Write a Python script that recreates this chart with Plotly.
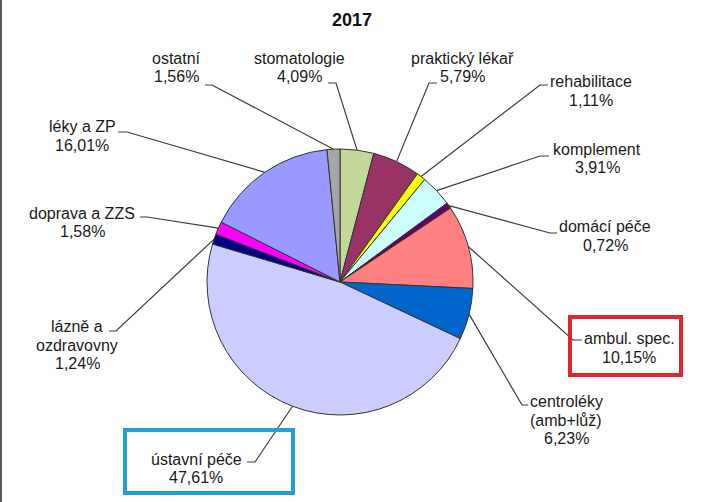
import math
import plotly.graph_objects as go

# ---- data ----
categories = ["stomatologie", "praktický lékař", "rehabilitace", "komplement",
              "domácí péče", "ambul. spec.", "centroléky<br>(amb+lůž)", "ústavní péče",
              "lázně a<br>ozdravovny", "doprava a ZZS", "léky a ZP", "ostatní"]
values = [4.09, 5.79, 1.11, 3.91, 0.72, 10.15, 6.23, 47.61, 1.24, 1.58, 16.01, 1.56]
title_text = "2017"

# ---- styles / layout ----
colors = ["#c4d79b", "#993366", "#ffff00", "#ccffff", "#660066", "#ff8080",
          "#0066cc", "#ccccff", "#000080", "#ff00ff", "#9999ff", "#a6a6a6"]

W, H = 703, 502
CX, CY, R = 340, 282, 133
LINE_H = 18.5
FONT = "Liberation Sans, Arial"

# label block centres (px) and leader stub (outer x, inner x, y) in px
label_pos = [(299, 67.5), (462, 67.5), (591, 91), (597, 158.5), (605, 236), (629, 348),
             (566, 420), (196, 468.5), (77, 345), (82, 222.5), (82, 136), (176, 67.5)]
stubs = [(328, 336, 83), (437, 429, 83), (548, 540, 85), (549, 540, 156),
         (557, 550, 233), (582, 573, 340), (528, 522, 405), (247, 255, 462),
         (109, 116, 331), (140, 147, 217), (118, 127, 132), (205, 212, 85)]


def px(x):
    return x / W


def py(y):
    return 1 - y / H


fig = go.Figure()
fig.add_trace(go.Pie(
    labels=[c.replace("<br>", " ") for c in categories],
    values=values,
    sort=False,
    direction="clockwise",
    rotation=0,
    textinfo="none",
    hoverinfo="label+percent",
    marker=dict(colors=colors, line=dict(color="#333333", width=1)),
    domain=dict(x=[px(CX - R), px(CX + R)], y=[py(CY + R), py(CY - R)]),
    showlegend=False,
))

total = sum(values)
shapes = []
annotations = []
cum = 0.0
for name, v, (lx, ly), (sx0, sx1, sy) in zip(categories, values, label_pos, stubs):
    mid = (cum + v / 2) / total * 2 * math.pi
    cum += v
    ex = CX + R * math.sin(mid)
    ey = CY - R * math.cos(mid)
    path = f"M {px(sx0)},{py(sy)} L {px(sx1)},{py(sy)} L {px(ex)},{py(ey)}"
    shapes.append(dict(type="path", path=path, xref="paper", yref="paper",
                       line=dict(color="#3c3c3c", width=1.2)))
    pct = f"{v:.2f}".replace(".", ",") + "%"
    lines = name.split("<br>") + [pct]
    n = len(lines)
    for i, t in enumerate(lines):
        yy = ly + (i - (n - 1) / 2) * LINE_H
        annotations.append(dict(text=t, x=px(lx), y=py(yy),
                                xref="paper", yref="paper", xanchor="center",
                                yanchor="middle", showarrow=False,
                                font=dict(family=FONT, size=16, color="#1a1a1a")))

annotations.append(dict(text=f"<b>{title_text}</b>", x=px(352), y=py(20), xref="paper",
                        yref="paper", xanchor="center", yanchor="middle",
                        showarrow=False,
                        font=dict(family=FONT, size=18, color="#111111")))

# highlight boxes
shapes.append(dict(type="rect", xref="paper", yref="paper",
                   x0=px(570), x1=px(681), y0=py(317), y1=py(375),
                   line=dict(color="#e1252d", width=4)))
shapes.append(dict(type="rect", xref="paper", yref="paper",
                   x0=px(125), x1=px(293), y0=py(430), y1=py(493),
                   line=dict(color="#1f9fdc", width=4)))
# left frame edge
shapes.append(dict(type="line", xref="paper", yref="paper",
                   x0=px(1), x1=px(1), y0=0, y1=1,
                   line=dict(color="#5a5a5a", width=2)))

fig.update_layout(
    width=W, height=H,
    margin=dict(l=0, r=0, t=0, b=0),
    paper_bgcolor="white", plot_bgcolor="white",
    shapes=shapes, annotations=annotations,
)

fig.write_html("out.html", config={"displayModeBar": False},
               post_script="document.body.style.margin='0';document.body.style.overflow='hidden';")
